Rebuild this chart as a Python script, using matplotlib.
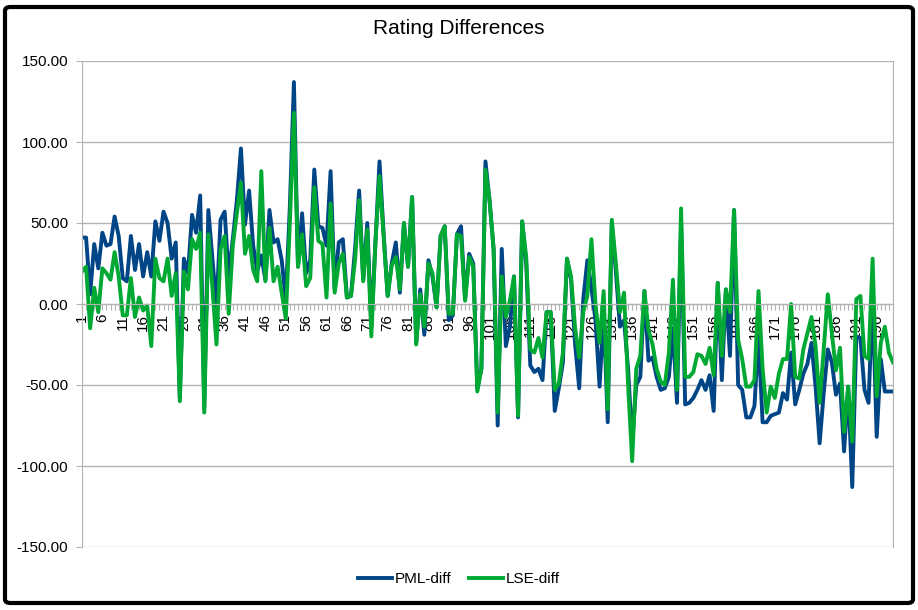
import matplotlib
matplotlib.use('Agg')

import numpy as np
import matplotlib.pyplot as plt
from matplotlib.patches import FancyBboxPatch

plt.rcParams['font.family'] = ['Liberation Sans', 'DejaVu Sans']

# rating differences per player
pml_diff = [
    41, 41, 6, 37, 22, 44, 36, 37, 54, 42,
    16, 14, 42, 21, 37, 17, 32, 17, 51, 39,
    57, 50, 28, 38, -58, 28, 19, 55, 44, 67,
    -64, 58, 28, -2, 52, 57, 17, 40, 64, 96,
    49, 70, 36, 20, 30, 15, 58, 38, 40, 27,
    3, 60, 137, 23, 56, 19, 27, 83, 48, 47,
    36, 82, 9, 38, 40, 4, 5, 34, 70, 15,
    50, -14, 38, 88, 44, 5, 25, 38, 7, 50,
    23, 66, -24, 9, -19, 27, 17, -2, 42, 48,
    -10, -7, 43, 48, 3, 31, 25, -52, -40, 88,
    64, 34, -75, 34, -26, -14, 17, -70, 51, 25,
    -38, -42, -40, -47, -5, -5, -66, -52, -36, 28,
    15, -25, -52, 3, 27, 10, -10, -51, -5, -73,
    50, 20, -14, -10, -40, -85, -50, -45, 8, -35,
    -33, -45, -53, -52, -45, -15, -61, 50, -62, -61,
    -58, -53, -47, -53, -44, -66, 13, -47, 9, -32,
    58, -50, -53, -70, -70, -63, -20, -73, -73, -69,
    -68, -67, -55, -59, -30, -62, -53, -43, -37, -24,
    -51, -86, -55, -28, -36, -56, -49, -91, -51, -113,
    -20, -21, -53, -61, 5, -82, -34, -54, -54, -54,
]

lse_diff = [
    20, 23, -15, 10, -5, 22, 19, 15, 32, 17,
    -7, -7, 16, -8, 4, -4, -1, -26, 28, 16,
    14, 28, 5, 19, -60, 20, 9, 40, 34, 44,
    -67, 43, 10, -25, 34, 42, -6, 36, 56, 75,
    31, 42, 21, 14, 82, 14, 47, 14, 23, 7,
    -9, 50, 118, 23, 43, 11, 16, 72, 39, 37,
    4, 62, 7, 25, 31, 4, 5, 27, 64, 14,
    46, -20, 38, 79, 42, 5, 24, 29, 9, 50,
    23, 66, -25, 6, -14, 25, 19, -2, 42, 48,
    -6, -6, 43, 42, 2, 29, 23, -54, -40, 83,
    64, 34, -67, 17, -8, 2, 17, -69, 51, 29,
    -28, -30, -21, -33, -5, -5, -53, -49, -30, 28,
    17, -15, -33, -5, 5, 40, 0, -24, 8, -65,
    52, 25, -5, 7, -50, -97, -40, -32, 8, -16,
    -25, -40, -48, -50, -30, 15, -53, 59, -45, -45,
    -42, -31, -32, -37, -27, -44, 13, -32, 9, -5,
    58, -22, -34, -51, -51, -47, 8, -40, -67, -51,
    -58, -43, -34, -34, 0, -45, -46, -28, -18, -8,
    -26, -61, -28, 6, -18, -41, -27, -79, -51, -85,
    3, 5, -32, -34, 28, -57, -24, -14, -30, -36,
]

players = np.arange(1, len(pml_diff) + 1)
y_ticks = [-150, -100, -50, 0, 50, 100, 150]

fig = plt.figure(figsize=(9.18, 6.10), dpi=100)
ax = fig.add_axes([82 / 918, 63 / 610, 811 / 918, 486 / 610])

ax.plot(players, pml_diff, color='#004586', linewidth=2.8, label='PML-diff')
ax.plot(players, lse_diff, color='#00A933', linewidth=2.8, label='LSE-diff')

ax.set_xlim(1, len(players))
ax.set_ylim(-150, 150)
ax.set_yticks(y_ticks)
ax.set_yticklabels([f'{v:.2f}' for v in y_ticks])
ax.grid(True, axis='y', color='#b3b3b3', linewidth=1)
ax.set_axisbelow(True)

# category axis crosses at zero, labels every 5th player
ax.set_xticks(players)
ax.set_xticklabels([str(p) if (p - 1) % 5 == 0 else '' for p in players])
ax.spines['bottom'].set_position(('data', 0))
for side in ['left', 'right', 'top', 'bottom']:
    ax.spines[side].set_color('#b3b3b3')
ax.spines['top'].set_visible(False)
ax.tick_params(axis='x', length=4, color='#b3b3b3', pad=3, labelsize=11, labelrotation=90)
ax.tick_params(axis='y', length=4, color='#b3b3b3', pad=6, labelsize=11)

fig.text(0.5, (610 - 29) / 610, 'Rating Differences', ha='center', va='center', fontsize=15)

fig.legend(loc='center', bbox_to_anchor=(0.5, (610 - 579) / 610), ncol=2, frameon=False,
           fontsize=11, handlelength=2.2, handletextpad=0.15, columnspacing=1.2)

border = FancyBboxPatch((5 / 918, 7 / 610), 908 / 918, 596 / 610,
                        boxstyle='round,pad=0,rounding_size=0.006',
                        transform=fig.transFigure, fill=False,
                        edgecolor='black', linewidth=3)
fig.patches.append(border)

fig.savefig('out.png', dpi=100)
